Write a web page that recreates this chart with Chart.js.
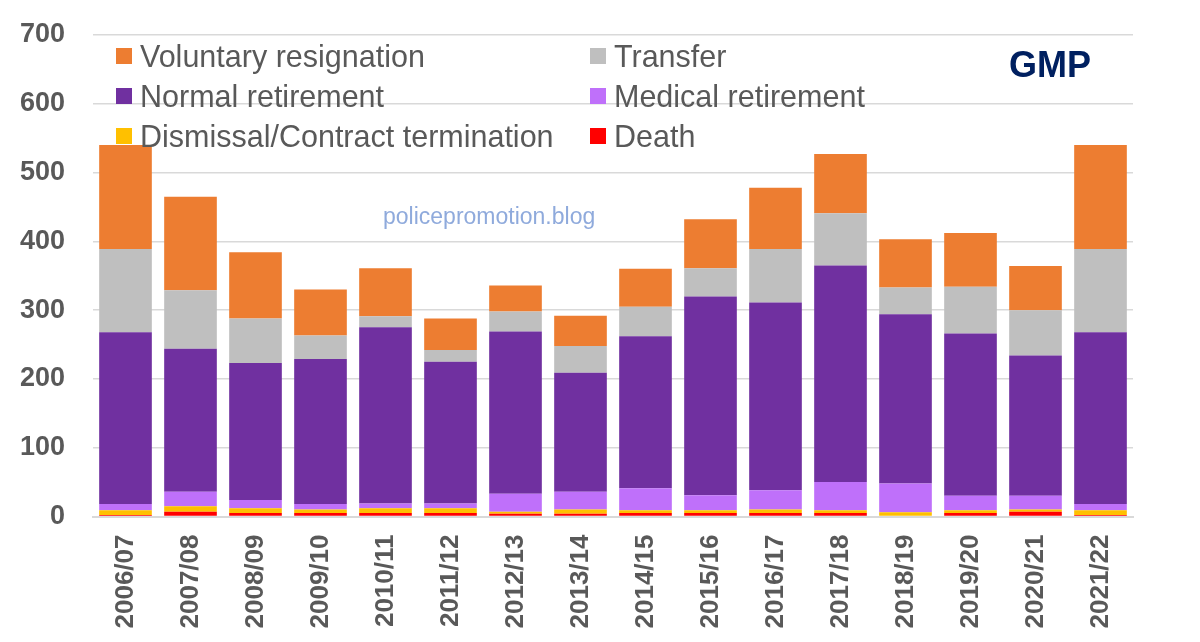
<!DOCTYPE html>
<html>
<head>
<meta charset="utf-8">
<script src="https://cdn.jsdelivr.net/npm/chart.js@4.4.1/dist/chart.umd.min.js"></script>
<style>
  html, body { margin: 0; padding: 0; background: #fff; }
  #wrap { position: relative; width: 1200px; height: 642px; }
  #legend {
    position: absolute; left: 116px; top: 36px;
    display: grid; grid-template-columns: 474px auto;
    font: 30.5px "Liberation Sans", Arial, sans-serif; color: #595959;
  }
  .item { display: flex; align-items: center; height: 40px; white-space: nowrap; }
  .sw { width: 16px; height: 16px; margin-right: 8px; flex: none; }
  #gmp {
    position: absolute; left: 1009px; top: 44px;
    font: bold 36px "Liberation Sans", Arial, sans-serif; color: #002060;
  }
  #wm {
    position: absolute; left: 383px; top: 203px;
    font: 23px "Liberation Sans", Arial, sans-serif; color: #8faadc;
  }
</style>
</head>
<body>
<div id="wrap">
  <canvas id="chart" width="1200" height="642"></canvas>
  <div id="legend"></div>
  <div id="gmp">GMP</div>
  <div id="wm">policepromotion.blog</div>
</div>
<script>
const FONT = '"Liberation Sans", Arial, sans-serif';
const AXIS_COLOR = "#595959";
const GRID_COLOR = "#d9d9d9";

const CATEGORIES = [
  "2006/07", "2007/08", "2008/09", "2009/10", "2010/11", "2011/12", "2012/13", "2013/14",
  "2014/15", "2015/16", "2016/17", "2017/18", "2018/19", "2019/20", "2020/21", "2021/22",
];

// stacked bottom -> top
const DEATH     = [2, 7, 5, 5, 5, 5, 4, 4, 5, 5, 5, 5, 1, 5, 7, 2];
const DISMISSAL = [7, 8, 7, 5, 7, 7, 3, 6, 4, 4, 5, 4, 5, 4, 3, 7];
const MEDICAL   = [9, 21, 12, 8, 7, 7, 26, 26, 32, 22, 28, 41, 42, 21, 20, 9];
const NORMAL    = [250, 208, 199, 211, 256, 206, 236, 173, 221, 289, 273, 315, 246, 236, 204, 250];
const TRANSFER  = [121, 85, 65, 34, 16, 17, 29, 39, 43, 41, 78, 76, 39, 68, 66, 121];
const VOLUNTARY = [151, 136, 96, 67, 70, 46, 38, 44, 55, 71, 89, 86, 70, 78, 64, 151];

const Y_TICKS = [0, 100, 200, 300, 400, 500, 600, 700];

const datasets = [
  { label: "Death", data: DEATH, backgroundColor: "#ff0000" },
  { label: "Dismissal/Contract termination", data: DISMISSAL, backgroundColor: "#ffc000" },
  { label: "Medical retirement", data: MEDICAL, backgroundColor: "#bf70fa" },
  { label: "Normal retirement", data: NORMAL, backgroundColor: "#7030a0" },
  { label: "Transfer", data: TRANSFER, backgroundColor: "#bfbfbf" },
  { label: "Voluntary resignation", data: VOLUNTARY, backgroundColor: "#ed7d31" },
];

// legend reads top-down in two columns
const LEGEND_ORDER = [
  "Voluntary resignation", "Transfer",
  "Normal retirement", "Medical retirement",
  "Dismissal/Contract termination", "Death",
];

const legendEl = document.getElementById("legend");
LEGEND_ORDER.forEach((name) => {
  const ds = datasets.find((d) => d.label === name);
  const item = document.createElement("div");
  item.className = "item";
  const sw = document.createElement("span");
  sw.className = "sw";
  sw.style.background = ds.backgroundColor;
  item.appendChild(sw);
  item.appendChild(document.createTextNode(ds.label));
  legendEl.appendChild(item);
});

new Chart(document.getElementById("chart").getContext("2d"), {
  type: "bar",
  data: {
    labels: CATEGORIES,
    datasets: datasets.map((d) => ({
      ...d,
      borderWidth: 0,
      categoryPercentage: 1,
      barPercentage: 0.81,
    })),
  },
  options: {
    responsive: false,
    animation: false,
    layout: { padding: { top: 35, right: 67, left: 0, bottom: 0 } },
    plugins: { legend: { display: false }, tooltip: { enabled: false } },
    scales: {
      x: {
        stacked: true,
        grid: { display: false },
        border: { display: true, color: GRID_COLOR, width: 2 },
        ticks: {
          color: AXIS_COLOR,
          font: { family: FONT, size: 26, weight: "bold" },
          minRotation: 90,
          maxRotation: 90,
          autoSkip: false,
          padding: 10,
        },
        afterFit: (s) => { s.height = 125.5; s.paddingTop = 0; },
      },
      y: {
        stacked: true,
        min: 0,
        max: 700,
        afterBuildTicks: (s) => { s.ticks = Y_TICKS.map((v) => ({ value: v })); },
        grid: { color: GRID_COLOR, lineWidth: 1.5, drawTicks: false },
        border: { display: false },
        ticks: {
          color: AXIS_COLOR,
          font: { family: FONT, size: 27, weight: "bold" },
          padding: 28,
        },
        afterFit: (s) => { s.width = 93; s.paddingTop = 0; s.paddingBottom = 0; },
      },
    },
  },
});
</script>
</body>
</html>
